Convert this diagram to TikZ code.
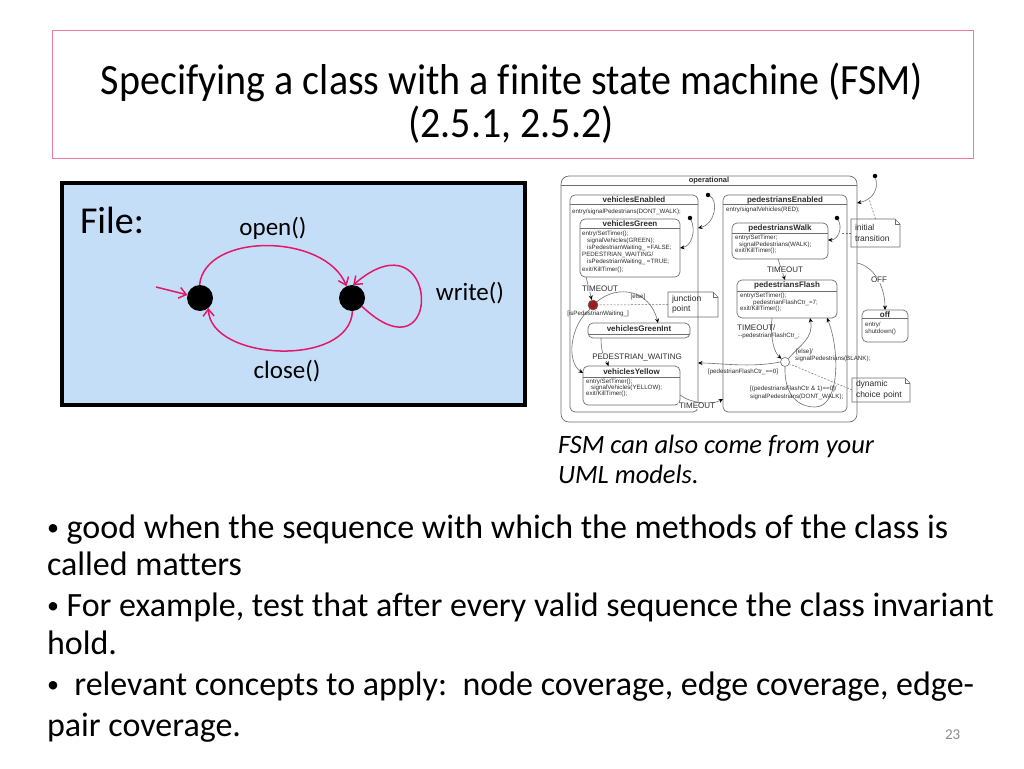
\documentclass[tikz,border=0pt]{standalone}
\usepackage{fontspec}
\usepackage{graphicx}
\setmainfont{Carlito}[Ligatures={TeX,NoCommon}]
\newfontfamily\umlf{Liberation Sans}
\usetikzlibrary{arrows.meta}
\definecolor{pinkb}{RGB}{232,122,165}
\definecolor{bluef}{RGB}{197,222,248}
\definecolor{fsmred}{RGB}{226,24,104}
\definecolor{umlg}{RGB}{110,110,110}
\definecolor{umlt}{RGB}{45,45,45}
\definecolor{jred}{RGB}{155,30,30}
\definecolor{pgnum}{RGB}{140,140,140}
\newcommand{\fs}[1]{\fontsize{#1}{#1}\selectfont}
\newcommand{\bul}{\raisebox{2.5pt}{\fs{24}•}}
\newcommand{\umlsep}[2]{\draw[usep] ([yshift=-#2pt]#1.north west) -- ([yshift=-#2pt]#1.north east);}
\newcommand{\notefold}[1]{%
  \draw[unote] (#1.north west) -- ([xshift=-5pt]#1.north east) -- ([yshift=-5pt]#1.north east) -- (#1.south east) -- (#1.south west) -- cycle;
  \draw[unote] ([xshift=-5pt]#1.north east) -- ([xshift=-5pt,yshift=-5pt]#1.north east) -- ([yshift=-5pt]#1.north east);}
\begin{document}
\begin{tikzpicture}[x=1pt,y=-1pt,
  txt/.style={inner sep=0pt,outer sep=0pt,anchor=base west},
  fsmarc/.style={draw=fsmred,line width=1.5pt,-{Straight Barb[length=7pt,width=11pt,line width=1.5pt]}},
  bigdot/.style={circle,fill=black,minimum size=26pt,inner sep=0pt,outer sep=0pt},
  ust/.style={draw=umlg,line width=0.7pt,rounded corners=5pt,fill=white,inner sep=0pt,outer sep=0pt,anchor=north west},
  usep/.style={draw=umlg,line width=0.6pt},
  utitle/.style={inner sep=0pt,font=\umlf\bfseries\fs{8},text=umlt},
  ubody/.style={inner sep=0pt,anchor=north west,align=left,font=\umlf\fontsize{6.2}{7.2}\selectfont,text=umlt},
  ulab/.style={inner sep=0pt,anchor=west,font=\umlf\fs{6.2},text=umlt},
  uev/.style={inner sep=0.6pt,font=\umlf\fs{8},text=umlt,fill=white},
  utr/.style={draw=umlg,line width=0.6pt,-{Stealth[length=4.5pt,width=4pt,color=black]}},
  udot/.style={circle,fill=black,minimum size=4.5pt,inner sep=0pt,outer sep=0pt},
  unote/.style={draw=umlg,line width=0.6pt},
  notebox/.style={inner xsep=4pt,inner ysep=0pt,outer sep=0pt,anchor=north west,align=left,font=\umlf\fontsize{8.5}{10.5}\selectfont,text=umlt},
  udash/.style={draw=umlg,line width=0.5pt,dash pattern=on 2pt off 1.5pt},
  body/.style={txt,font=\fs{34}},
]
\useasboundingbox (0,0) rectangle (1024,768);
\fill[white] (0,0) rectangle (1024,768);

% ---- title ----
\node[draw=pinkb,line width=1.2pt,minimum width=921pt,minimum height=128pt,anchor=north west,inner sep=0pt] (tb) at (52,30) {};
\node[inner sep=0pt,anchor=base,font=\fs{40}] (t1) at (512,94) {\scalebox{1}[1.08]{Specifying a class with a finite state machine (FSM)}};
\node[inner sep=0pt,anchor=base,font=\fs{40}] (t2) at (511,137) {\scalebox{1}[1.08]{(2.5.1, 2.5.2)}};

% ---- File FSM ----
\node[draw=black,line width=4.5pt,fill=bluef,minimum width=463pt,minimum height=222pt,anchor=north west,inner sep=0pt,outer sep=0pt] (fb) at (62,183) {};
\node[txt,font=\fs{38}] (lf) at (80,233) {File:};
\node[bigdot] (L) at (200,298) {};
\node[bigdot] (R) at (352,298) {};
\coordinate (fi) at (156,287);
\draw[fsmarc] (fi) -- (L);
\draw[fsmarc] (L.92) .. controls (205,232) and (325,233) .. (R.115);
\draw[fsmarc] (R.-88) .. controls (350,368) and (210,361) .. (L.-50);
\draw[fsmarc] (R.-40) .. controls (445,385) and (440,210) .. (R.85);
\node[inner sep=0pt,font=\fs{25}] (lo) at (273,228) {open()};
\node[inner sep=0pt,font=\fs{25}] (lw) at (470,293) {write()};
\node[inner sep=0pt,font=\fs{25}] (lc) at (287,371) {close()};

% ---- UML statechart ----
\node[ust,rounded corners=8pt,minimum width=296pt,minimum height=246pt] (op) at (561,176) {};
\umlsep{op}{9}
\node[utitle,font=\umlf\bfseries\fs{7.5}] (opt) at ([yshift=-4.6pt]op.north) {operational};

\node[ust,minimum width=128pt,minimum height=217pt] (vE) at (570,195) {};
\umlsep{vE}{9}
\node[utitle] (vEt) at ([yshift=-5pt]vE.north) {vehiclesEnabled};
\node[ubody] (vEb) at (572,208.5) {entry/signalPedestrians(DONT\_WALK);};

\node[ust,minimum width=124pt,minimum height=217pt] (pE) at (723,195) {};
\umlsep{pE}{9}
\node[utitle] (pEt) at ([yshift=-5pt]pE.north) {pedestriansEnabled};
\node[ubody] (pEb) at (726,206.5) {entry/signalVehicles(RED);};

\node[ust,minimum width=100pt,minimum height=58pt] (vG) at (580,219) {};
\umlsep{vG}{9}
\node[utitle] (vGt) at ([yshift=-4.6pt]vG.north) {vehiclesGreen};
\node[ubody] (vGb) at (582,230.5) {entry/SetTimer();\\\hspace*{5pt}signalVehicles(GREEN);\\\hspace*{5pt}isPedestrianWaiting\_ =FALSE;\\PEDESTRIAN\_WAITING/\\\hspace*{5pt}isPedestrianWaiting\_ =TRUE;\\exit/KillTimer();};

\node[ust,minimum width=96pt,minimum height=36pt] (pW) at (732,223) {};
\umlsep{pW}{10}
\node[utitle] (pWt) at ([yshift=-5pt]pW.north) {pedestriansWalk};
\node[ubody,font=\umlf\fontsize{6.2}{6.6}\selectfont] (pWb) at (735,235) {entry/SetTimer;\\\hspace*{4pt}signalPedestrians(WALK);\\exit/KillTimer();};

\node[ust,minimum width=100pt,minimum height=38pt] (pF) at (737,280) {};
\umlsep{pF}{11}
\node[utitle] (pFt) at ([yshift=-5.8pt]pF.north) {pedestriansFlash};
\node[ubody,font=\umlf\fontsize{6.2}{6.6}\selectfont] (pFb) at (740,293) {entry/SetTimer();\\\hspace*{13pt}pedestrianFlashCtr\_=7;\\exit/KillTimer();};

\node[ust,minimum width=102pt,minimum height=15pt] (vGI) at (588,323) {};
\umlsep{vGI}{11}
\node[utitle] (vGIt) at ([yshift=-5.8pt]vGI.north) {vehiclesGreenInt};

\node[ust,minimum width=97pt,minimum height=39pt] (vY) at (583,366) {};
\umlsep{vY}{11}
\node[utitle] (vYt) at ([yshift=-5.8pt]vY.north) {vehiclesYellow};
\node[ubody,font=\umlf\fontsize{6.2}{6}\selectfont] (vYb) at (586,379) {entry/SetTimer();\\\hspace*{5pt}signalVehicles(YELLOW);\\exit/KillTimer();};

\node[ust,minimum width=46pt,minimum height=32pt] (off) at (862,310) {};
\umlsep{off}{8}
\node[utitle] (offt) at ([yshift=-4.3pt]off.north) {off};
\node[ubody] (offb) at (865,321.5) {entry/\\shutdown()};

% pseudo states
\node[udot] (d0) at (875,176) {};
\node[udot] (d1) at (708,195) {};
\node[udot] (d2) at (690,218) {};
\node[udot] (d3) at (837,218) {};
\node[circle,draw=umlg,line width=0.6pt,fill=jred,minimum size=10pt,inner sep=0pt] (J) at (593,305) {};
\node[circle,draw=umlg,line width=0.6pt,fill=white,minimum size=9pt,inner sep=0pt] (C) at (785,362) {};

% transitions
\draw[utr] (d0) .. controls (879,190) and (872,200) .. ([yshift=-27pt]op.north east);
\draw[utr] (d1) .. controls (718,200) and (716,224) .. ([yshift=-33pt]vE.north east);
\draw[utr] (d2) .. controls (696,230) and (692,246) .. ([yshift=-29pt]vG.north east);
\draw[utr] (d3) .. controls (843,228) and (838,240) .. ([yshift=-17pt]pW.north east);

\draw[utr] ([xshift=-2pt]pW.south) -- ([xshift=-2pt]pF.north);
\node[uev] (ev1) at (785,270) {TIMEOUT};

\draw[utr] ([xshift=-44pt]vG.south) -- (J);
\node[uev] (ev2) at (600,289) {TIMEOUT};

\draw[utr] (J.40) .. controls (618,284) and (650,290) .. ([xshift=19pt]vGI.north);
\node[ulab,anchor=center] (g1) at (638,297) {[else]};

\draw[utr] (J.235) .. controls (570,325) and (566,362) .. ([yshift=-7pt]vY.north west);
\node[ulab,anchor=center] (g2) at (598,314) {[isPedestrianWaiting\_]};

\draw[utr] ([xshift=-38pt]vGI.south) .. controls (601,356) and (606,360) .. ([xshift=-23pt]vY.north);
\node[uev] (ev3) at (637,357) {PEDESTRIAN\_WAITING};

\draw[utr] ([yshift=-29pt]vY.north east) .. controls (692,404) and (712,405) .. ([yshift=-204pt]pE.north west);
\node[uev] (ev4) at (697,406) {TIMEOUT};

\draw[utr] (C.west) .. controls (750,368) and (720,363) .. ([yshift=-168pt]vE.north east);
\node[ulab,anchor=center] (g3) at (743,372) {[pedestrianFlashCtr\_==0]};

\draw[utr] ([xshift=-15pt]pF.south) .. controls (770,338) and (774,352) .. (C);
\node[uev,fill=none,anchor=west,inner sep=0pt] (ev5) at (737,328) {TIMEOUT/};
\node[ulab] (ev5b) at (738,336) {--pedestrianFlashCtr\_;};

\draw[utr] (C.north east) .. controls (800,345) and (814,338) .. ([xshift=23pt]pF.south);
\node[ulab] (g4) at (796,352) {[else]/};
\node[ulab] (g4b) at (795,359) {signalPedestrians(BLANK);};

\draw[utr] (C.south) .. controls (784,395) and (798,407) .. (815,407) .. controls (840,407) and (840,350) .. ([xshift=40pt]pF.south);
\node[ulab] (g5) at (750,389) {[(pedestriansFlashCtr \& 1)==0]/};
\node[ulab] (g5b) at (750,397) {signalPedestrians(DONT\_WALK);};

\draw[utr] ([yshift=-87pt]op.north east) .. controls (873,266) and (885,285) .. (off.north);
\node[uev] (ev6) at (879,280) {OFF};

% notes
\node[notebox,text width=42pt,minimum height=25pt] (nj) at (668,292) {junction\\point};
\notefold{nj}
\draw[udash] (nj.west) -- (J);
\node[notebox,text width=41pt,minimum height=28pt] (ni) at (851,219) {initial\\transition};
\notefold{ni}
\coordinate (ni1) at (869,199);
\coordinate (ni2) at (841,233);
\draw[udash] (ni.north) -- (ni1);
\draw[udash] (ni.west) -- (ni2);
\node[notebox,text width=50pt,minimum height=24pt] (nd) at (852,378) {dynamic\\choice point};
\notefold{nd}
\draw[udash] (nd.west) -- (C);

% caption
\node[txt,font=\itshape\fs{26.5}] (c1) at (558,453) {FSM can also come from your};
\node[txt,font=\itshape\fs{26.5}] (c2) at (558,483) {UML models.};

% bullets
\node[body] (b1) at (47,538) {\bul\ good when the sequence with which the methods of the class is};
\node[body] (b2) at (47,575) {called matters};
\node[body] (b3) at (47,616) {\bul\ For example, test that after every valid sequence the class invariant};
\node[body] (b4) at (47,654) {hold.};
\node[body] (b5) at (47,695) {\bul\ \ relevant concepts to apply:\ \ node coverage, edge coverage, edge-};
\node[body] (b6) at (47,736) {pair coverage.};
\node[txt,font=\fs{15},text=pgnum] (pg) at (945,739) {23};
\end{tikzpicture}
\end{document}
